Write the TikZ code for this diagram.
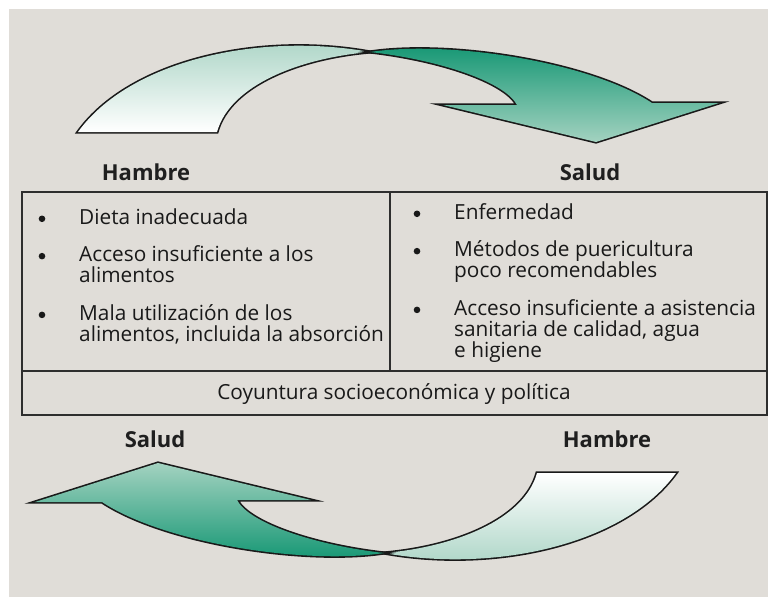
\documentclass[tikz,border=0pt]{standalone}
\usepackage{fontspec}
\setmainfont{Open Sans}
\usepackage{array}

\definecolor{panelgray}{HTML}{E0DDD8}
\definecolor{tealdark}{HTML}{0E9470}
\definecolor{teallight}{HTML}{A3D2C0}
\definecolor{tealpale}{HTML}{A6D2C2}
\definecolor{framegray}{HTML}{2E2E2E}

\newcommand{\itemdot}{\tikz[baseline=-5.2pt]\fill[black!90] (0,0) circle (3.3pt);}

\begin{document}
\begin{tikzpicture}[x=1pt, y=-1pt,
    arrowbody/.style={preaction={draw=black!90, line width=3.2pt, line join=miter}},
    frame/.style={draw=framegray, line width=1.1pt},
    cycle label/.style={font=\fontsize{22}{26}\selectfont\bfseries, text=black!88, inner sep=0pt},
    cell/.style={font=\fontsize{20.8}{21.4}\selectfont, text=black!90, inner sep=0pt, anchor=base west}]
    \useasboundingbox (0,0) rectangle (768,597);
    \fill[panelgray] (9,9) rectangle (768,597);

    % Twisted arrows: top one, then the same turned half a round
    \foreach \ang/\ltop/\lbot/\rtop/\rbot in {0/tealpale/white/tealdark/teallight,
                                               180/white/tealpale/teallight/tealdark} {
        \begin{scope}[rotate around={\ang:(377,302.5)}]
            % pale part (from the base up to the crossing)
            \shade[arrowbody, top color=\ltop, bottom color=\lbot]
                (78,132) .. controls (130,60) and (260,32) .. (370,52)
                .. controls (300,58) and (230,85) .. (217,132) -- cycle;
            % dark part with the head
            \shade[arrowbody, top color=\rtop, bottom color=\rbot]
                (370,52) .. controls (450,40) and (590,62) .. (652,103)
                -- (719,103) -- (596,142) -- (443,105) -- (517,105)
                .. controls (505,82) and (440,60) .. (370,52) -- cycle;
        \end{scope}
    }

    % Labels of the two cycles
    \node[cycle label] (hambreTop) at (146,172) {Hambre};
    \node[cycle label] (saludTop) at (590,172) {Salud};
    \node[cycle label] (saludBot) at (155,439) {Salud};
    \node[cycle label] (hambreBot) at (607,439) {Hambre};

    % Table
    \draw[frame] (22,192) rectangle (767,415);
    \draw[frame] (22,371) -- (767,371);
    \draw[frame] (390,192) -- (390,371);

    \node[cell] (hambreList) at (38.5,224) {%
        \begin{tabular}[t]{@{}p{40.5pt}@{}p{310pt}@{}}
            \itemdot & Dieta inadecuada\\ \noalign{\vskip 15pt}
            \itemdot & Acceso insuficiente a los\newline alimentos\\ \noalign{\vskip 15pt}
            \itemdot & Mala utilización de los\newline alimentos, incluida la absorción
        \end{tabular}};
    \node[cell] (saludList) at (413.5,219) {%
        \begin{tabular}[t]{@{}p{40.5pt}@{}p{310pt}@{}}
            \itemdot & Enfermedad\\ \noalign{\vskip 15pt}
            \itemdot & Métodos de puericultura\newline poco recomendables\\ \noalign{\vskip 15pt}
            \itemdot & Acceso insuficiente a asistencia\newline sanitaria de calidad, agua\newline e higiene
        \end{tabular}};
    \node[cell, anchor=center] (coyuntura) at (394,394) {Coyuntura socioeconómica y política};
\end{tikzpicture}
\end{document}
